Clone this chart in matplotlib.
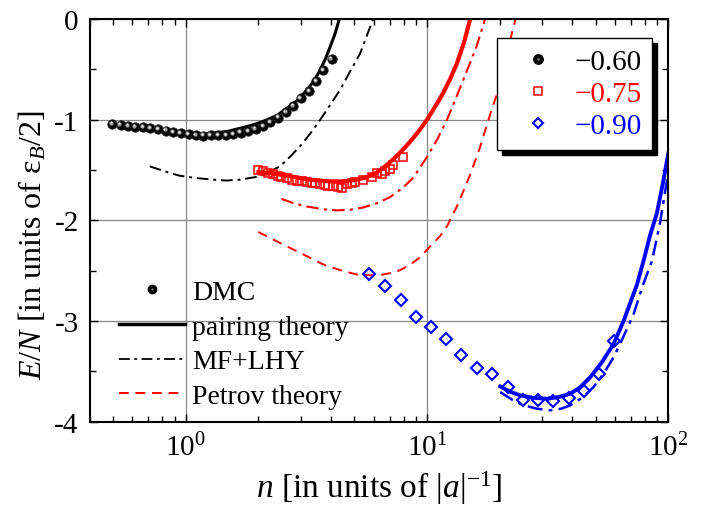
import matplotlib.pyplot as plt
from matplotlib import transforms
from matplotlib.lines import Line2D
from matplotlib.legend_handler import HandlerTuple
from matplotlib.ticker import MultipleLocator, LogLocator, NullFormatter, FuncFormatter

plt.rcParams['font.family'] = ['Liberation Serif', 'DejaVu Serif']
plt.rcParams['mathtext.fontset'] = 'custom'
plt.rcParams['mathtext.rm'] = 'Liberation Serif'
plt.rcParams['mathtext.it'] = 'Liberation Serif:italic'
plt.rcParams['axes.unicode_minus'] = False

# DMC, a = -0.60 (spheres)
dmc60_n = [0.496, 0.536, 0.576, 0.618, 0.665, 0.713, 0.767, 0.826, 0.886, 0.951,
           1.026, 1.10, 1.18, 1.266, 1.36, 1.466, 1.571, 1.686, 1.808, 1.945,
           2.087, 2.24, 2.41, 2.593, 2.79, 2.99, 3.24, 3.47, 3.715, 4.02]
dmc60_e = [-1.04, -1.05, -1.06, -1.07, -1.076, -1.086, -1.096, -1.109, -1.122, -1.132,
           -1.145, -1.152, -1.158, -1.155, -1.152, -1.152, -1.142, -1.129, -1.116, -1.092,
           -1.066, -1.023, -0.98, -0.924, -0.861, -0.789, -0.716, -0.617, -0.511, -0.396]

# DMC, a = -0.75 (squares)
dmc75_n = [1.995, 2.09, 2.196, 2.30, 2.415, 2.49, 2.62, 2.745, 2.88, 3.02,
           3.17, 3.32, 3.43, 3.60, 3.77, 3.89, 4.08, 4.29, 4.43, 4.64,
           4.87, 5.02, 5.44, 5.90, 6.18, 6.49, 6.70, 7.02, 7.25, 7.98]
dmc75_e = [-1.50, -1.515, -1.532, -1.542, -1.555, -1.565, -1.581, -1.598, -1.608, -1.614,
           -1.621, -1.631, -1.625, -1.641, -1.654, -1.664, -1.657, -1.67, -1.674, -1.641,
           -1.631, -1.621, -1.604, -1.565, -1.532, -1.542, -1.515, -1.489, -1.45, -1.375]

# DMC, a = -0.90 (diamonds)
dmc90_n = [5.77, 6.70, 7.78, 8.97, 10.35, 12.0, 13.87, 16.07, 18.62, 21.63,
           24.95, 28.84, 33.27, 38.64, 44.77, 51.76, 59.29]
dmc90_e = [-2.537, -2.65, -2.794, -2.964, -3.063, -3.179, -3.333, -3.465, -3.524, -3.655,
           -3.78, -3.787, -3.797, -3.764, -3.695, -3.524, -3.2]

# pairing theory
pair60_n = [0.95, 1.1, 1.3, 1.5, 1.79, 2.0, 2.16, 2.4, 2.62, 2.9, 3.17, 3.4, 3.6, 3.8, 3.96, 4.15, 4.33, 4.4]
pair60_e = [-1.14, -1.145, -1.135, -1.115, -1.069, -1.035, -1.004, -0.955, -0.888, -0.81,
            -0.708, -0.615, -0.51, -0.39, -0.28, -0.15, 0.0, 0.05]
pair75_n = [2.0, 2.3, 2.75, 3.3, 3.9, 4.4, 5.0, 5.5, 6.0, 6.5, 7.0, 7.5, 8.0, 8.5,
            9.2, 10.0, 11.0, 11.7, 12.5, 13.3, 14.2, 15.1, 15.3]
pair75_e = [-1.52, -1.535, -1.565, -1.598, -1.612, -1.615, -1.60, -1.578, -1.545, -1.49,
            -1.425, -1.36, -1.29, -1.22, -1.12, -1.0, -0.84, -0.73, -0.59, -0.44, -0.24, 0.0, 0.05]
pair90_n = [20.1, 22.0, 24.3, 27.5, 31.4, 35.0, 39.2, 43.0, 47.5, 53.0, 59.3, 65.3, 70.0,
            74.2, 78.9, 84.0, 89.7, 95.0, 100.0]
pair90_e = [-3.649, -3.70, -3.737, -3.762, -3.771, -3.755, -3.722, -3.66, -3.557, -3.41,
            -3.228, -2.997, -2.8, -2.636, -2.405, -2.15, -1.928, -1.63, -1.336]

# MF+LHY
mf60_n = [0.709, 0.858, 0.944, 1.1, 1.298, 1.475, 1.675, 2.03, 2.457, 2.7, 2.97, 3.3,
          3.60, 3.95, 4.35, 4.8, 5.27, 5.98, 6.1]
mf60_e = [-1.464, -1.53, -1.557, -1.58, -1.596, -1.605, -1.596, -1.563, -1.464, -1.37, -1.267,
          -1.13, -1.004, -0.86, -0.708, -0.52, -0.346, 0.0, 0.05]
mf75_n = [2.49, 2.8, 3.17, 3.7, 4.22, 4.8, 5.44, 6.2, 7.02, 8.0, 8.8, 10.0, 11.0, 12.1,
          13.1, 14.1, 15.0, 16.0, 17.4, 17.7]
mf75_e = [-1.787, -1.83, -1.862, -1.89, -1.901, -1.895, -1.872, -1.83, -1.77, -1.67, -1.57,
          -1.37, -1.2, -1.0, -0.8, -0.61, -0.45, -0.28, 0.0, 0.05]
mf90_n = [20.1, 22.5, 25.1, 28.5, 32.4, 36.0, 39.2, 44.0, 49.0, 54.0, 59.3, 65.0, 71.8,
          78.0, 85.5, 92.0, 98.8, 100.0]
mf90_e = [-3.705, -3.78, -3.836, -3.87, -3.886, -3.87, -3.836, -3.76, -3.655, -3.52, -3.36,
          -3.16, -2.932, -2.66, -2.405, -2.05, -1.6, -1.53]

# Petrov theory
pet75_n = [1.995, 2.3, 2.70, 3.2, 3.71, 4.3, 5.1, 5.8, 6.39, 7.0, 7.7, 8.5, 9.3, 10.2,
           11.3, 12.09, 13.3, 14.6, 15.6, 16.6, 17.4, 18.3, 19.5, 21.0, 22.5, 23.3, 23.6]
pet75_e = [-2.115, -2.19, -2.273, -2.36, -2.438, -2.49, -2.537, -2.545, -2.543, -2.525,
           -2.497, -2.44, -2.372, -2.27, -2.158, -2.06, -1.86, -1.632, -1.45, -1.27, -1.11,
           -0.94, -0.743, -0.46, -0.134, 0.0, 0.05]

legend_labels = ['\u22120.60', '\u22120.75', '\u22120.90']
legend_colors = ['black', 'red', 'blue']
method_labels = ['DMC', 'pairing theory', 'MF+LHY', 'Petrov theory']
y_ticks = [0, -1, -2, -3, -4]


def sphere(ax, fig, x, y, ms):
    # black ball with a small highlight, offset up-left
    ax.plot(x, y, 'o', color='black', ms=ms, mec='#222222', mew=0.5, zorder=5)
    hl = transforms.offset_copy(ax.transData, fig=fig, x=-0.8, y=0.8, units='points')
    ax.plot(x, y, 'o', color='#9a9a9a', ms=ms * 0.45, mew=0, transform=hl, zorder=6)
    hl2 = transforms.offset_copy(ax.transData, fig=fig, x=-1.0, y=1.0, units='points')
    ax.plot(x, y, 'o', color='white', ms=ms * 0.2, mew=0, transform=hl2, zorder=7)


def main():
    fig = plt.figure(figsize=(7.02, 5.10), dpi=100)
    ax = fig.add_axes([0.128, 0.171, 0.824, 0.790])

    dd = (0, (6, 2.5, 1.5, 2.5))
    ax.plot(mf60_n, mf60_e, color='black', lw=1.4, ls=dd)
    ax.plot(mf75_n, mf75_e, color='red', lw=1.5, ls=dd)
    ax.plot(mf90_n, mf90_e, color='blue', lw=1.8, ls=dd)
    ax.plot(pet75_n, pet75_e, color='red', lw=1.4, ls=(0, (5, 3.5)))
    ax.plot(pair60_n, pair60_e, color='black', lw=2.2)
    ax.plot(pair75_n, pair75_e, color='red', lw=3.0)
    ax.plot(pair90_n, pair90_e, color='blue', lw=2.8)

    sphere(ax, fig, dmc60_n, dmc60_e, 6.8)
    ax.plot(dmc75_n, dmc75_e, 's', ms=5.6, mfc='none', mec='red', mew=1.1, zorder=5)
    ax.plot(dmc90_n, dmc90_e, 'D', ms=6.2, mfc='none', mec='blue', mew=1.5, zorder=5)

    ax.set_xscale('log')
    ax.set_xlim(0.4, 100)
    ax.set_ylim(-4, 0)
    ax.yaxis.set_major_locator(plt.FixedLocator(y_ticks))
    ax.yaxis.set_minor_locator(MultipleLocator(0.5))
    ax.yaxis.set_major_formatter(FuncFormatter(lambda v, p: '%d' % round(v)))
    ax.xaxis.set_major_locator(LogLocator(base=10, numticks=10))
    ax.xaxis.set_minor_locator(LogLocator(base=10, subs=range(2, 10), numticks=20))
    ax.xaxis.set_minor_formatter(NullFormatter())

    ax.grid(True, which='major', color='#888888', lw=0.9)
    ax.set_axisbelow(True)
    ax.tick_params(which='both', direction='in', top=True, right=True, width=1.0,
                   labelsize=21, pad=8)
    ax.tick_params(which='major', length=6)
    ax.tick_params(which='minor', length=4)
    for s in ax.spines.values():
        s.set_linewidth(1.5)

    ax.set_xlabel('$n$ [in units of $|a|^{-1}$]', fontsize=24, labelpad=5)
    ax.set_ylabel('$E/N$ [in units of ε$_B$/2]', fontsize=23, labelpad=4)
    ax.yaxis.label.set_y(0.44)

    tup = {tuple: HandlerTuple(ndivide=1, pad=0)}

    # legend for the scattering lengths (top right, with black shadow)
    h_sph = (Line2D([], [], ls='none', marker='o', color='black', ms=6.8),
             Line2D([], [], ls='none', marker='o', color='#777777', ms=1.8, mew=0))
    h_sq = Line2D([], [], ls='none', marker='s', ms=5.2, mfc='none', mec='red', mew=1.1)
    h_di = Line2D([], [], ls='none', marker='D', ms=5.4, mfc='none', mec='blue', mew=1.5)
    leg1 = ax.legend([h_sph, h_sq, h_di], legend_labels, labelcolor=legend_colors,
                     handler_map=tup,
                     loc='upper right', bbox_to_anchor=(0.972, 0.952), borderaxespad=0,
                     fontsize=21, handlelength=2.1, handletextpad=0.2, borderpad=0.35,
                     labelspacing=0.2, fancybox=False, edgecolor='black', framealpha=1,
                     shadow={'ox': 3.6, 'oy': -3.6, 'facecolor': 'black',
                             'edgecolor': 'black', 'alpha': 1})
    leg1.get_frame().set_linewidth(1.0)
    ax.add_artist(leg1)

    # legend for the methods (bottom left, no frame)
    h_dmc = (Line2D([], [], ls='none', marker='o', color='black', ms=6.0),
             Line2D([], [], ls='none', marker='o', color='#777777', ms=1.6, mew=0))
    h_pair = Line2D([], [], color='black', lw=2.5)
    h_mf = Line2D([], [], color='black', lw=1.3, ls=dd)
    h_pet = Line2D([], [], color='red', lw=1.4, ls=(0, (5, 3.5)))
    ax.legend([h_dmc, h_pair, h_mf, h_pet], method_labels, handler_map=tup,
              loc='upper left', bbox_to_anchor=(0.05, 0.353), borderaxespad=0, borderpad=0,
              frameon=False, fontsize=20, handlelength=2.4, handletextpad=0.25,
              labelspacing=0.33)

    fig.savefig('out.png', dpi=100)


if __name__ == '__main__':
    main()
